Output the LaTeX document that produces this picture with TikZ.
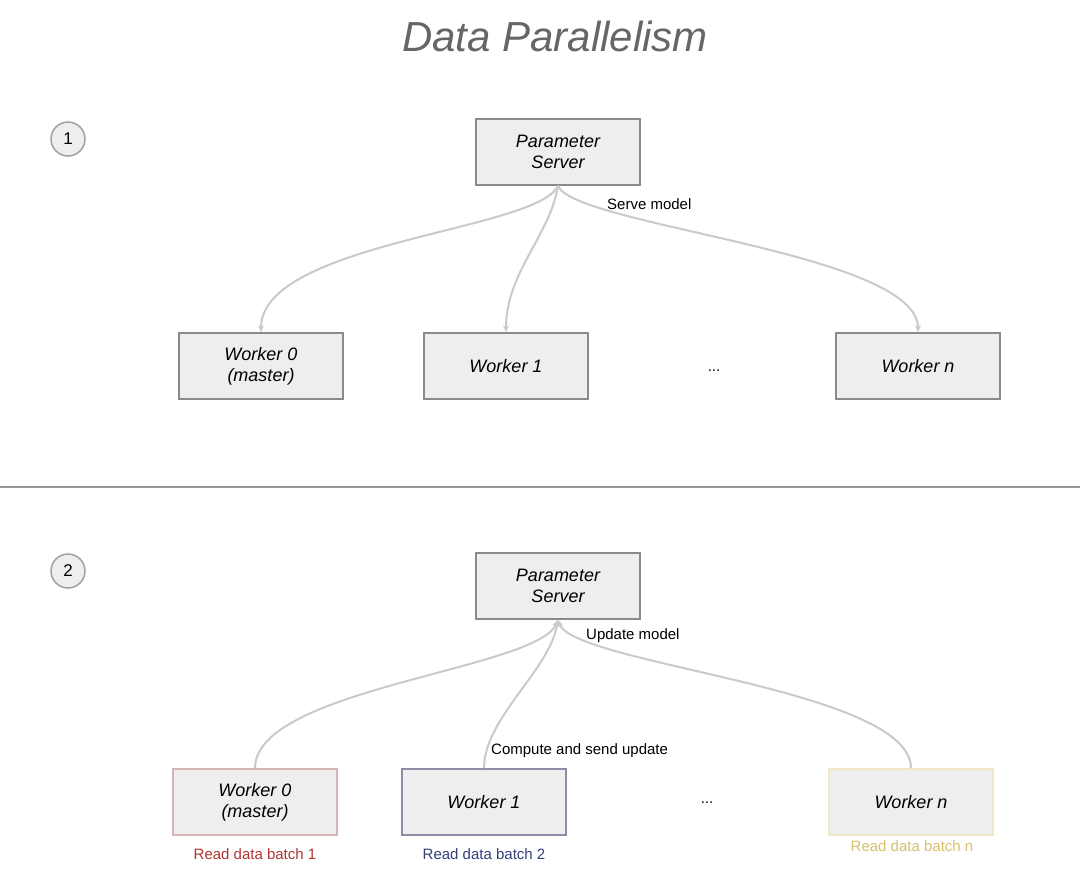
\documentclass[tikz,border=0pt]{standalone}
\usepackage{fontspec}
\setmainfont{Liberation Sans}
\usetikzlibrary{arrows.meta}
\definecolor{boxfill}{HTML}{EEEEEE}
\definecolor{boxline}{HTML}{8A8A8A}
\definecolor{connc}{HTML}{CACACA}
\definecolor{titlec}{HTML}{666666}
\definecolor{redc}{HTML}{B03434}
\definecolor{bluec}{HTML}{33407A}
\definecolor{yelc}{HTML}{D9C070}
\definecolor{redline}{HTML}{D4B4B4}
\definecolor{blueline}{HTML}{8C8CA4}
\definecolor{yelline}{HTML}{F0E8C4}
\begin{document}
\begin{tikzpicture}[x=1pt,y=-1pt,
  box/.style={draw=boxline,fill=boxfill,line width=1.5pt,minimum width=164pt,minimum height=66pt,
    inner sep=0pt,align=center,font=\fontsize{18}{21}\selectfont\itshape},
  numc/.style={circle,draw=boxline!80,fill=boxfill,line width=1.5pt,minimum size=34pt,inner sep=0pt,
    font=\fontsize{17}{20}\selectfont},
  lbl/.style={font=\fontsize{15}{18}\selectfont,inner sep=0pt},
  conn/.style={draw=connc,line width=2pt},
  tip/.style={-{Stealth[length=7pt,width=6pt]}}
]
\useasboundingbox (0,0) rectangle (1080,876);
\fill[white] (0,0) rectangle (1080,876);
\node[text=titlec,font=\fontsize{42}{48}\selectfont\itshape] (title) at (555,36) {Data Parallelism};

% part 1
\node[numc] (n1) at (68,139) {1};
\node[box] (ps1) at (558,152) {Parameter\\Server};
\node[lbl,anchor=west] (serve) at (607,204) {Serve model};
\node[box] (a0) at (261,366) {Worker 0\\(master)};
\node[box] (a1) at (506,366) {Worker 1};
\node[lbl] (adots) at (714,371) {...};
\node[box] (an) at (918,366) {Worker n};
\draw[conn,tip] (ps1.south) .. controls +(-20,45) and +(0,-90) .. (a0.north);
\draw[conn,tip] (ps1.south) .. controls +(-8,50) and +(0,-60) .. (a1.north);
\draw[conn,tip] (ps1.south) .. controls +(15,40) and +(0,-80) .. (an.north);

% separator
\coordinate (sl) at (0,487);
\coordinate (sr) at (1080,487);
\draw[draw=boxline!90,line width=2pt] (sl) -- (sr);

% part 2
\node[numc] (n2) at (68,571) {2};
\node[box] (ps2) at (558,586) {Parameter\\Server};
\node[lbl,anchor=west] (upd) at (586,636) {Update model};
\node[box,draw=redline] (b0) at (255,802) {Worker 0\\(master)};
\node[box,draw=blueline] (b1) at (484,802) {Worker 1};
\node[lbl] (bdots) at (707,803) {...};
\node[box,draw=yelline] (bn) at (911,802) {Worker n};
\node[lbl,anchor=west] (comp) at (491,751) {Compute and send update};
\node[lbl,text=redc] (r0) at (255,854) {Read data batch 1};
\node[lbl,text=bluec] (r1) at (484,854) {Read data batch 2};
\node[lbl,text=yelc] (rn) at (912,846) {Read data batch n};
\draw[conn,tip] (b0.north) .. controls +(0,-80) and +(-20,50) .. (ps2.south);
\draw[conn,tip] (b1.north) .. controls +(0,-50) and +(-8,50) .. (ps2.south);
\draw[conn,tip] (bn.north) .. controls +(0,-80) and +(15,45) .. (ps2.south);
\end{tikzpicture}
\end{document}
